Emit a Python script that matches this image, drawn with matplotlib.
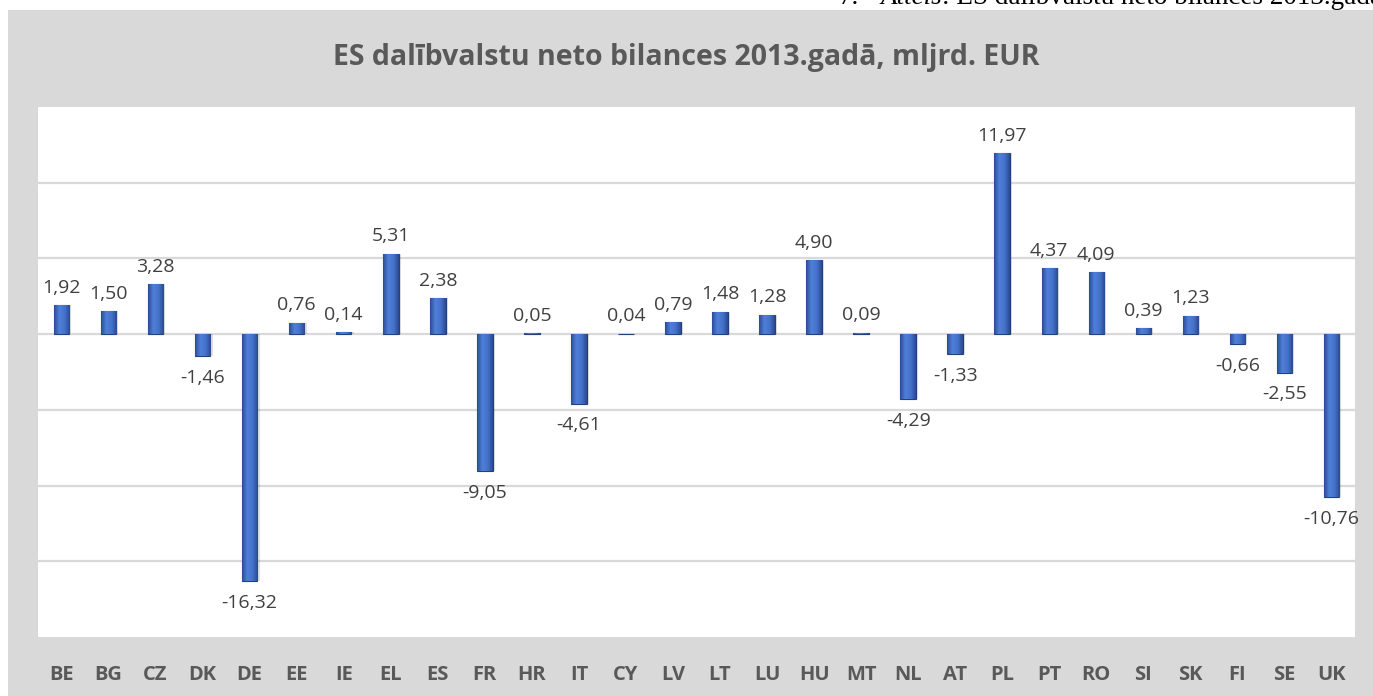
import matplotlib.pyplot as plt
import numpy as np
from matplotlib.colors import LinearSegmentedColormap
from matplotlib.patches import Rectangle

countries = ["BE", "BG", "CZ", "DK", "DE", "EE", "IE", "EL", "ES", "FR", "HR", "IT", "CY", "LV",
             "LT", "LU", "HU", "MT", "NL", "AT", "PL", "PT", "RO", "SI", "SK", "FI", "SE", "UK"]
balances = [1.92, 1.50, 3.28, -1.46, -16.32, 0.76, 0.14, 5.31, 2.38, -9.05, 0.05, -4.61, 0.04, 0.79,
            1.48, 1.28, 4.90, 0.09, -4.29, -1.33, 11.97, 4.37, 4.09, 0.39, 1.23, -0.66, -2.55, -10.76]
title = "ES dalībvalstu neto bilances 2013.gadā, mljrd. EUR"

grey_text = "#595959"
panel = "#D9D9D9"

fig = plt.figure(figsize=(13.73, 6.96), dpi=100, facecolor="white")
fig.patches.append(Rectangle((8 / 1373, 0), 1, (696 - 10) / 696, transform=fig.transFigure,
                             facecolor=panel, edgecolor="none", zorder=-10))

# caption of the document, cut at the top edge like in the source page
cap_y = 1 - 4 / 696
fig.text(838 / 1373, cap_y, "7.", family="Liberation Serif", fontsize=19.5, va="baseline", color="black")
cap2 = fig.text(880 / 1373, cap_y, "Attēls", family="Liberation Serif", fontsize=19.5,
                style="italic", va="baseline", color="black")
fig.text(942 / 1373, cap_y, ": ES dalībvalstu neto bilances 2013.gadā", family="Liberation Serif",
         fontsize=19.5, va="baseline", color="black")

ax = fig.add_axes([38 / 1373, (696 - 637) / 696, 1317 / 1373, 530 / 696])
ax.set_facecolor("white")
for s in ax.spines.values():
    s.set_visible(False)

x = np.arange(len(countries))
ax.set_yticks([-15, -10, -5, 0, 5, 10])
ax.yaxis.grid(True, color=panel, linewidth=1.6)
ax.set_axisbelow(True)
ax.tick_params(axis="y", left=False, labelleft=False)
ax.tick_params(axis="x", bottom=False, pad=17)
ax.set_xticks(x)
ax.set_xticklabels(countries, fontsize=14.5, fontweight="bold", color=grey_text, family="Open Sans")

# soft shadow
ax.bar(x + 0.03, balances, width=0.36, bottom=0, color="black", alpha=0.12, zorder=2)
bars = ax.bar(x, balances, width=0.33, color="#3E68C0", edgecolor="#23407E", linewidth=0.8, zorder=3)

cmap = LinearSegmentedColormap.from_list("bevel", ["#2B4C96", "#4F7FD8", "#4573CC", "#2A4A90"])
grad = np.linspace(0, 1, 64).reshape(1, -1)
for b in bars:
    x0, y0 = b.get_x(), b.get_y()
    w, h = b.get_width(), b.get_height()
    im = ax.imshow(grad, cmap=cmap, aspect="auto", extent=(x0, x0 + w, min(y0, y0 + h), max(y0, y0 + h)),
                   zorder=4)
    im.set_clip_path(b)
ax.set_xlim(-0.5, len(countries) - 0.5)
ax.set_ylim(-20, 15)

for xi, v in zip(x, balances):
    lab = f"{v:.2f}".replace(".", ",")
    if v >= 0:
        ax.annotate(lab, (xi, v), xytext=(0, 6), textcoords="offset points", ha="center", va="bottom",
                    fontsize=14, color="#404040", family="Open Sans")
    else:
        ax.annotate(lab, (xi, v), xytext=(0, -9), textcoords="offset points", ha="center", va="top",
                    fontsize=14, color="#404040", family="Open Sans")

fig.text(333 / 1373, 1 - 58 / 696, title, ha="left", va="center", fontsize=20.5, fontweight="bold",
         color=grey_text, family="Open Sans")

fig.savefig("out.png", dpi=100, facecolor=fig.get_facecolor())
